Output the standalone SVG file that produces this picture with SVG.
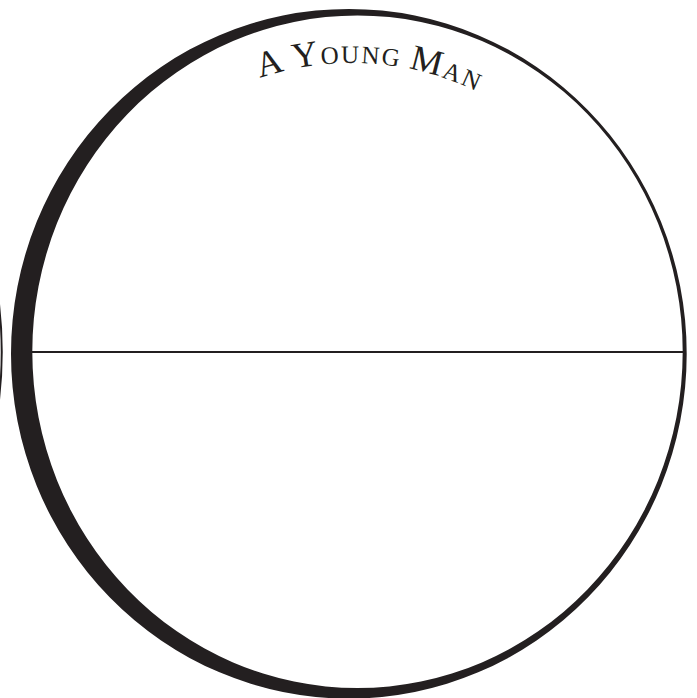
<svg xmlns="http://www.w3.org/2000/svg" width="697" height="698" viewBox="0 0 697 698">
<style>
.ink{fill:#231f20;}
.rule{stroke:#231f20;stroke-width:2;fill:none;}
.title{font-family:"Liberation Serif","DejaVu Serif",serif;fill:#231f20;letter-spacing:1.8px;font-size:36px;}
.small{font-size:25px;}
</style>
<defs>
<path id="arc" d="M 63,352 A 289,289 0 0 1 641,352"/>
</defs>
<rect width="697" height="698" fill="#ffffff"/>
<g id="edge-left">
<path class="rule" d="M -1,304 Q 4.5,352 -1,400" stroke-width="2.5"/>
</g>
<g id="ring">
<path class="ink" fill-rule="evenodd" d="M 11,353.75 A 337.85,344.75 0 1 0 686.7,353.75 A 337.85,344.75 0 1 0 11,353.75 Z M 32.3,351.75 A 325.2,336.25 0 1 1 682.7,351.75 A 325.2,336.25 0 1 1 32.3,351.75 Z"/>
</g>
<g id="divider">
<line class="rule" x1="32" y1="352" x2="684" y2="352"/>
</g>
<g id="label">
<text class="title" text-anchor="middle"><textPath href="#arc" startOffset="472">A Y<tspan class="small">OUNG </tspan>M<tspan class="small">AN</tspan></textPath></text>
</g>
</svg>
